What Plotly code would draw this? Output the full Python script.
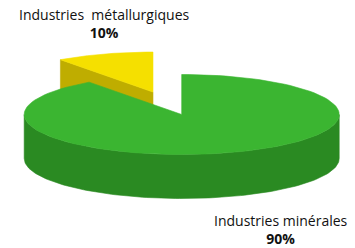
import numpy as np
import plotly.graph_objects as go

labels = ["Industries minérales", "Industries métallurgiques"]
values = [90, 10]
pct_text = ["90%", "10%"]
top_colors = ["#3BB531", "#F5E000"]
side_colors = ["#2A8A22", "#BFAD00"]
pull = [0.0, 0.59]

W, H = 355, 248
cx, cy, rx, ry, depth = 181.7, 114.5, 157.5, 40.0, 44.0

total = float(sum(values))
starts, ends = [], []
acc = 0.0
for v in values:
    starts.append(acc / total * 2 * np.pi)
    acc += v
    ends.append(acc / total * 2 * np.pi)


def pt(a, ox, oy, dz=0.0):
    return ox + rx * np.sin(a), oy - ry * np.cos(a) + dz


def arc(a0, a1, ox, oy, dz=0.0, n=120):
    aa = np.linspace(a0, a1, n)
    return ox + rx * np.sin(aa), oy - ry * np.cos(aa) + dz


fig = go.Figure()


def poly(xs, ys, color):
    fig.add_trace(go.Scatter(x=list(xs), y=list(ys), fill="toself", fillcolor=color,
                             mode="lines", line=dict(width=0.6, color=color),
                             hoverinfo="skip", showlegend=False))


centers = []
for i in range(len(values)):
    mid = (starts[i] + ends[i]) / 2
    ox = cx + pull[i] * rx * np.sin(mid)
    oy = cy - pull[i] * ry * np.cos(mid)
    centers.append((ox, oy))

# exploded slice first (it lies behind), then the main slice
for i in [1, 0]:
    ox, oy = centers[i]
    a0, a1 = starts[i], ends[i]
    if i == 1:
        # radial face at its start angle, facing the viewer
        px, py = pt(a0, ox, oy)
        poly([ox, px, px, ox, ox], [oy, py, py + depth, oy + depth, oy], side_colors[i])
    # outer side face: front part only
    lo = max(a0, np.pi / 2)
    hi = min(a1, 3 * np.pi / 2)
    if hi > lo:
        tx, ty = arc(lo, hi, ox, oy)
        bx, by = arc(hi, lo, ox, oy, depth)
        poly(np.concatenate([tx, bx, tx[:1]]), np.concatenate([ty, by, ty[:1]]), side_colors[i])
    # top face
    tx, ty = arc(a0, a1, ox, oy)
    poly(np.concatenate([[ox], tx, [ox]]), np.concatenate([[oy], ty, [oy]]), top_colors[i])

font = "Open Sans"
fs = 14
fig.add_annotation(x=104, y=23, text=labels[1].replace(" ", "  ") + "<br><b>" + pct_text[1] + "</b>",
                   showarrow=False, align="center",
                   font=dict(family=font, size=fs, color="#111"))
fig.add_annotation(x=280.5, y=229, text=labels[0] + "<br><b>" + pct_text[0] + "</b>",
                   showarrow=False, align="center",
                   font=dict(family=font, size=fs, color="#111"))

fig.update_layout(width=W, height=H, margin=dict(l=0, r=0, t=0, b=0),
                  paper_bgcolor="white", plot_bgcolor="white",
                  xaxis=dict(range=[0, W], visible=False, fixedrange=True),
                  yaxis=dict(range=[H, 0], visible=False, fixedrange=True))
fig.write_html("out.html", config={"displayModeBar": False},
               post_script="document.body.style.margin='0';document.body.style.overflow='hidden';")
